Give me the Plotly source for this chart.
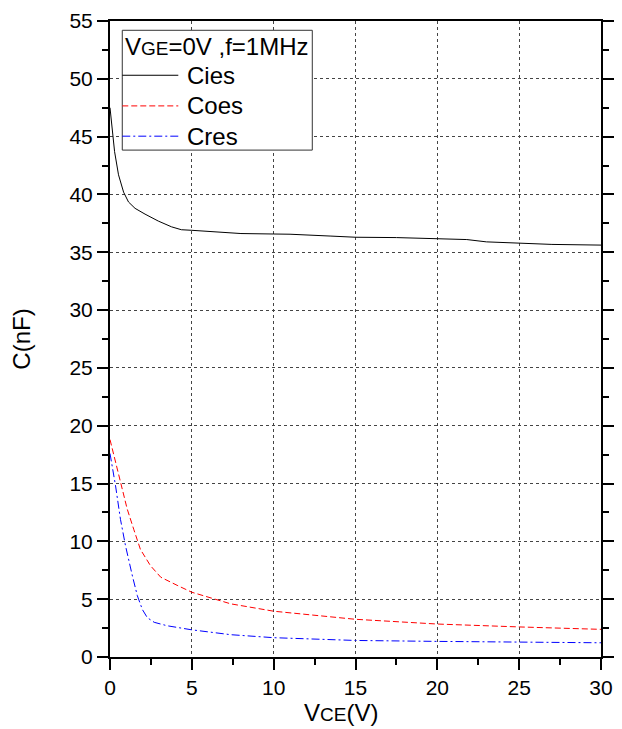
import plotly.graph_objects as go

# ---- data ----
cies_x = [0, 0.12, 0.28, 0.52, 0.83, 1.13, 1.53, 2.14, 2.95, 3.76, 4.36, 5.0, 6.5, 8.0, 10, 11, 13.5, 15, 17.5, 20, 21.8, 23, 25, 27, 30]
cies_y = [47.5, 45.7, 43.7, 41.7, 40.2, 39.35, 38.8, 38.3, 37.7, 37.2, 36.95, 36.9, 36.75, 36.62, 36.58, 36.56, 36.4, 36.3, 36.27, 36.15, 36.1, 35.9, 35.8, 35.68, 35.62]

coes_x = [0, 0.34, 0.64, 1.05, 1.46, 1.86, 2.47, 3.1, 4.1, 5.0, 7.37, 10, 15, 20, 25, 30]
coes_y = [18.8, 16.8, 15.1, 12.8, 11.0, 9.3, 7.9, 6.9, 6.2, 5.6, 4.6, 3.96, 3.26, 2.85, 2.6, 2.39]

cres_x = [0, 0.34, 0.64, 0.95, 1.37, 1.67, 1.98, 2.28, 2.7, 3.5, 5.0, 7.37, 10, 15, 20, 25, 30]
cres_y = [17.6, 14.8, 11.9, 9.6, 7.0, 5.3, 4.1, 3.4, 3.0, 2.7, 2.35, 1.93, 1.67, 1.43, 1.35, 1.29, 1.23]

series_names = ["Cies", "Coes", "Cres"]
series_colors = ["black", "red", "blue"]
series_dash = ["solid", "6px,3px", "8px,3px,2px,3px"]

x_ticks = [0, 5, 10, 15, 20, 25, 30]
y_ticks = [0, 5, 10, 15, 20, 25, 30, 35, 40, 45, 50, 55]

legend_title = "V<span style='font-size:19px'>GE</span>=0V ,f=1MHz"
x_title = "V<span style='font-size:19px'>CE</span>(V)"
y_title = "C(nF)"

FONT = "Liberation Sans, Arial, sans-serif"

fig = go.Figure()
for xs, ys, nm, col, dsh in zip([cies_x, coes_x, cres_x], [cies_y, coes_y, cres_y],
                                series_names, series_colors, series_dash):
    fig.add_trace(go.Scatter(x=xs, y=ys, mode="lines", name=nm, showlegend=False,
                             line=dict(color=col, width=1, dash=dsh)))

axis_common = dict(
    showline=True, linecolor="black", linewidth=2,
    ticks="outside", ticklen=11, tickwidth=2, tickcolor="black",
    showgrid=True, gridcolor="#444", griddash="dot", gridwidth=1,
    zeroline=False, automargin=False,
    tickfont=dict(family=FONT, size=21, color="black"),
    minor=dict(dtick=2.5, tick0=0, ticks="outside", ticklen=6, tickwidth=2, tickcolor="black", showgrid=False),
)

fig.update_xaxes(
    range=[0, 30], tickvals=x_ticks, ticktext=[str(v) for v in x_ticks],
    mirror=True,
    **axis_common,
)
fig.update_yaxes(
    range=[0, 55], tickvals=y_ticks, ticktext=[str(v) for v in y_ticks],
    mirror="ticks", ticklabelstandoff=0,
    title=dict(text=y_title, font=dict(family=FONT, size=24, color="black"), standoff=33),
    **axis_common,
)

# ---- legend box drawn in paper coordinates ----
shapes = [dict(type="rect", xref="paper", yref="paper", x0=0.025, x1=0.412, y0=0.797, y1=0.9854,
               line=dict(color="#333", width=1), fillcolor="white", layer="above")]
annotations = [
    dict(xref="paper", yref="paper", x=0.0255, y=0.9606, xanchor="left", yanchor="middle",
         text=legend_title, showarrow=False, font=dict(family=FONT, size=24, color="black")),
    dict(xref="paper", yref="paper", x=0.470, y=-0.0879, xanchor="center", yanchor="middle",
         text=x_title, showarrow=False, font=dict(family=FONT, size=24, color="black")),
]
legend_rows_y = [0.9147, 0.8665, 0.8189]
for nm, col, dsh, ly in zip(series_names, series_colors, series_dash, legend_rows_y):
    shapes.append(dict(type="line", xref="paper", yref="paper", x0=0.025, x1=0.1391, y0=ly, y1=ly,
                       line=dict(color=col, width=1, dash=dsh), layer="above"))
    annotations.append(dict(xref="paper", yref="paper", x=0.153, y=ly, xanchor="left", yanchor="middle",
                            text=nm, showarrow=False, font=dict(family=FONT, size=24, color="black")))

fig.update_layout(
    width=614, height=721,
    margin=dict(l=102, r=21, t=13, b=72),
    paper_bgcolor="white", plot_bgcolor="white",
    font=dict(family=FONT, color="black"),
    showlegend=False,
    shapes=shapes, annotations=annotations,
)

fig.write_html("out.html")
